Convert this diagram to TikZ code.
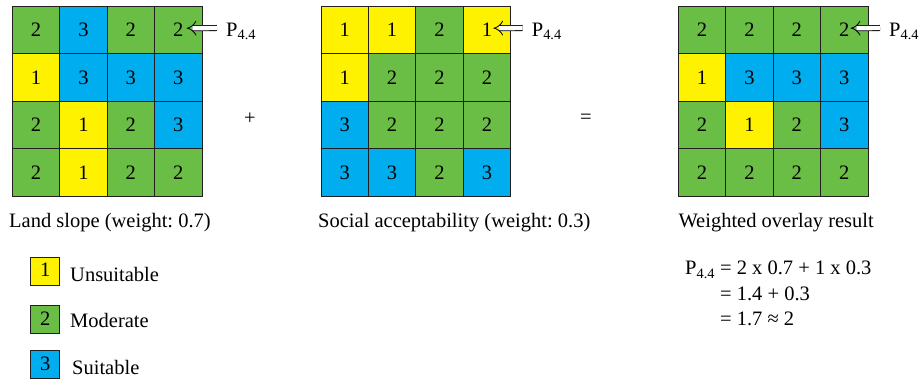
\documentclass[tikz,border=0pt]{standalone}
\usepackage{fontspec}
\setmainfont{Liberation Serif}
\usetikzlibrary{arrows.meta}
\definecolor{lowyellow}{RGB}{255,242,0}
\definecolor{midgreen}{RGB}{106,189,69}
\definecolor{highblue}{RGB}{0,174,239}
\definecolor{gridline}{RGB}{35,31,32}
\frenchspacing

\begin{document}
\begin{tikzpicture}[
        x=1pt, y=1pt,
        font=\fontsize{20.5}{25.5}\selectfont,
        cell/.style={rectangle, draw=gridline, line width=0.8pt, minimum size=47.4pt, inner sep=0pt},
        val1/.style={fill=lowyellow},
        val2/.style={fill=midgreen},
        val3/.style={fill=highblue},
        key/.style={rectangle, draw=gridline, line width=0.8pt, minimum width=29pt, minimum height=28pt, inner sep=0pt, text height=13.2pt, text depth=2pt},
        caption/.style={anchor=base west, inner sep=0pt},
        plabel/.style={anchor=west, inner xsep=9pt, inner ysep=0pt, text depth=0pt},
        hollow/.style={double, double distance=4.4pt, line width=0.8pt, -{Implies[length=8pt, width=13pt]}}
    ]
    \useasboundingbox (0,0) rectangle (922,383);
    % land slope
    \foreach \row [count=\i] in {{2,3,2,2},{1,3,3,3},{2,1,2,3},{2,1,2,2}}
        \foreach \v [count=\j] in \row
            \node[cell, val\v] (a-\i-\j) at (12.3+\j*47.4-23.7, 376.5-\i*47.4+23.7) {\v};
    % social acceptability
    \foreach \row [count=\i] in {{1,1,2,1},{1,2,2,2},{3,2,2,2},{3,3,2,3}}
        \foreach \v [count=\j] in \row
            \node[cell, val\v] (b-\i-\j) at (321+\j*47.4-23.7, 376.5-\i*47.4+23.7) {\v};
    % result
    \foreach \row [count=\i] in {{2,2,2,2},{1,3,3,3},{2,1,2,3},{2,2,2,2}}
        \foreach \v [count=\j] in \row
            \node[cell, val\v] (c-\i-\j) at (678.3+\j*47.4-23.7, 376.5-\i*47.4+23.7) {\v};

    \node[plabel] (pa) at (217,353) {P\textsubscript{4.4}};
    \node[plabel] (pb) at (522.7,353) {P\textsubscript{4.4}};
    \node[plabel] (pc) at (880,353) {P\textsubscript{4.4}};
    \draw[hollow] ([yshift=2pt]pa.west) -- ([xshift=8.5pt,yshift=2pt]a-1-4.center);
    \draw[hollow] ([yshift=2pt]pb.west) -- ([xshift=6.5pt,yshift=2pt]b-1-4.center);
    \draw[hollow] ([yshift=2pt]pc.west) -- ([xshift=6.5pt,yshift=2pt]c-1-4.center);

    \node (plus) at (250,264) {+};
    \node (equal) at (586,264) {=};

    \node[caption] (capa) at (9,155) {Land slope (weight: 0.7)};
    \node[caption] (capb) at (318,155) {Social acceptability (weight: 0.3)};
    \node[caption] (capc) at (678.3,155) {Weighted overlay result};

    % legend
    \node[key, val1] (k1) at (45.3,112) {1};
    \node[caption] (k1text) at (70,101.3) {Unsuitable};
    \node[key, val2] (k2) at (45.3,63.5) {2};
    \node[caption] (k2text) at (70,55) {Moderate};
    \node[key, val3] (k3) at (45.3,18.5) {3};
    \node[caption] (k3text) at (72,8) {Suitable};

    \node[caption] (calc) at (685,108) {\begin{tabular}[t]{@{}r@{\ }l@{}}
        P\textsubscript{4.4} & = 2 x 0.7 + 1 x 0.3\\
         & = 1.4 + 0.3\\
         & = 1.7 ≈ 2
    \end{tabular}};
\end{tikzpicture}
\end{document}
